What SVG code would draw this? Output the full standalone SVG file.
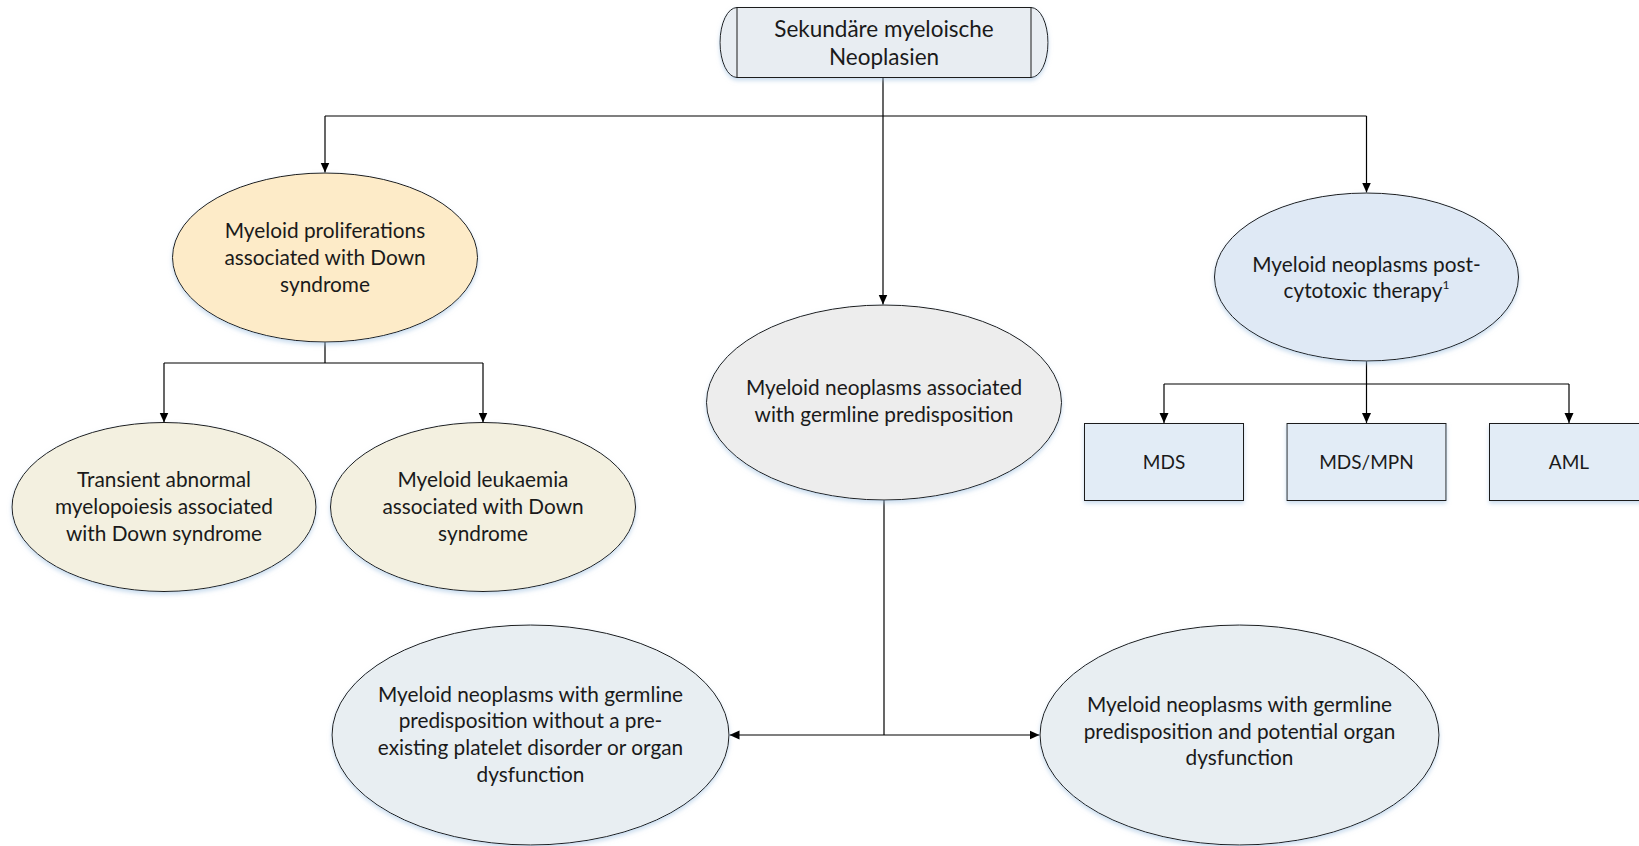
<svg xmlns="http://www.w3.org/2000/svg" width="1639" height="846" viewBox="0 0 1639 846">
  <defs>
    <filter id="glow" x="-10%" y="-10%" width="120%" height="130%">
      <feDropShadow dx="0" dy="2.5" stdDeviation="2" flood-color="#9dbfe0" flood-opacity="0.55"/>
    </filter>
    <marker id="arrow" viewBox="0 0 10 10" refX="10" refY="5" markerWidth="10" markerHeight="10" markerUnits="userSpaceOnUse" orient="auto">
      <path d="M0,0.5 L10,5 L0,9.5 Z" fill="#000"/>
    </marker>
    <style>
      .shape { stroke: #1a1a1a; stroke-width: 1; filter: url(#glow); }
      .label { font-family: Lato, "Open Sans", "Liberation Sans", sans-serif; font-size: 20.8px; fill: #1a1a1a; text-anchor: middle; }
      .title { font-size: 22.5px; }
      .small { font-size: 19px; }
      .wire { fill: none; stroke: #000; stroke-width: 1.2; }
      .y { fill: #fdebc8; }
      .beige { fill: #f3f0e0; }
      .grey { fill: #ededed; }
      .blue { fill: #dfe9f5; }
      .box { fill: #e2ecf6; }
      .slate { fill: #e8eef2; }
      .top { fill: #e8edf2; }
    </style>
  </defs>

  <!-- connectors -->
  <g id="connectors" class="wire">
    <path d="M883,77 V116"/>
    <path d="M325,116 H1366.5"/>
    <path d="M325,116 V172.5" marker-end="url(#arrow)"/>
    <path d="M883,116 V304.5" marker-end="url(#arrow)"/>
    <path d="M1366.5,116 V192.5" marker-end="url(#arrow)"/>
    <path d="M325,342 V363 M164,363 H483"/>
    <path d="M164,363 V422.5" marker-end="url(#arrow)"/>
    <path d="M483,363 V422.5" marker-end="url(#arrow)"/>
    <path d="M1366.5,361 V384 M1164,384 H1569"/>
    <path d="M1164,384 V423" marker-end="url(#arrow)"/>
    <path d="M1366.5,384 V423" marker-end="url(#arrow)"/>
    <path d="M1569,384 V423" marker-end="url(#arrow)"/>
    <path d="M884,500 V735"/>
    <path d="M884,735 H729.5" marker-end="url(#arrow)"/>
    <path d="M884,735 H1039.5" marker-end="url(#arrow)"/>
  </g>

  <!-- root -->
  <g id="root">
    <path class="shape top" d="M737,7.5 H1031 A17,35 0 0 1 1031,77.5 H737 A17,35 0 0 1 737,7.5 Z"/>
    <path d="M737,7.5 V77.5 M1031,7.5 V77.5" stroke="#1a1a1a" stroke-width="1" fill="none"/>
    <text class="label title" x="884" y="36.5">Sekundäre myeloische</text>
    <text class="label title" x="884" y="65">Neoplasien</text>
  </g>

  <!-- Down syndrome branch -->
  <g id="down-syndrome">
    <ellipse class="shape y" cx="325" cy="257.5" rx="152.5" ry="84.5"/>
    <text class="label" x="325" y="238">Myeloid proliferations</text>
    <text class="label" x="325" y="265">associated with Down</text>
    <text class="label" x="325" y="291.5">syndrome</text>
  </g>
  <g id="tam">
    <ellipse class="shape beige" cx="164" cy="507" rx="152" ry="84.5"/>
    <text class="label" x="164" y="486.5">Transient abnormal</text>
    <text class="label" x="164" y="513.5">myelopoiesis associated</text>
    <text class="label" x="164" y="540.5">with Down syndrome</text>
  </g>
  <g id="ml-ds">
    <ellipse class="shape beige" cx="483" cy="507" rx="152.5" ry="84.5"/>
    <text class="label" x="483" y="486.5">Myeloid leukaemia</text>
    <text class="label" x="483" y="513.5">associated with Down</text>
    <text class="label" x="483" y="540.5">syndrome</text>
  </g>

  <!-- germline branch -->
  <g id="germline">
    <ellipse class="shape grey" cx="884" cy="402.5" rx="177.5" ry="97.5"/>
    <text class="label" x="884" y="395">Myeloid neoplasms associated</text>
    <text class="label" x="884" y="421.5">with germline predisposition</text>
  </g>
  <g id="germline-no-disorder">
    <ellipse class="shape slate" cx="530.5" cy="735" rx="198.5" ry="110"/>
    <text class="label" x="530.5" y="701.5">Myeloid neoplasms with germline</text>
    <text class="label" x="530.5" y="728">predisposition without a pre-</text>
    <text class="label" x="530.5" y="755">existing platelet disorder or organ</text>
    <text class="label" x="530.5" y="781.5">dysfunction</text>
  </g>
  <g id="germline-organ">
    <ellipse class="shape slate" cx="1239.5" cy="735" rx="199.5" ry="110"/>
    <text class="label" x="1239.5" y="711.5">Myeloid neoplasms with germline</text>
    <text class="label" x="1239.5" y="738.5">predisposition and potential organ</text>
    <text class="label" x="1239.5" y="765">dysfunction</text>
  </g>

  <!-- post-cytotoxic therapy branch -->
  <g id="post-cytotoxic">
    <ellipse class="shape blue" cx="1366.5" cy="277" rx="152" ry="84"/>
    <text class="label" x="1366.5" y="272">Myeloid neoplasms post-</text>
    <text class="label" x="1366.5" y="298">cytotoxic therapy<tspan font-size="12" dy="-9">1</tspan></text>
  </g>
  <g id="mds">
    <rect class="shape box" x="1084.5" y="423.5" width="159" height="77"/>
    <text class="label small" x="1164" y="469">MDS</text>
  </g>
  <g id="mds-mpn">
    <rect class="shape box" x="1287" y="423.5" width="159" height="77"/>
    <text class="label small" x="1366.5" y="469">MDS/MPN</text>
  </g>
  <g id="aml">
    <rect class="shape box" x="1489.5" y="423.5" width="159" height="77"/>
    <text class="label small" x="1569" y="469">AML</text>
  </g>
</svg>
